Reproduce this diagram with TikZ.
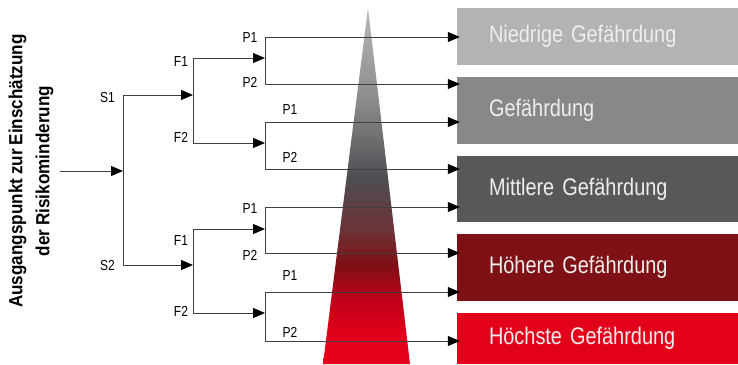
\documentclass[tikz,border=0pt]{standalone}
\usepackage{fontspec}
\setmainfont{Liberation Sans}[FakeStretch=0.83,WordSpace=0.7]
\newfontfamily\headfont{Liberation Sans}[FakeStretch=0.9,WordSpace=0.8]
\usepackage{xcolor}
\usepackage{tikz}
\usetikzlibrary{arrows.meta}

\definecolor{lvl1}{HTML}{B2B3B5}
\definecolor{lvl2}{HTML}{87888A}
\definecolor{lvl3}{HTML}{58585A}
\definecolor{lvl4}{HTML}{7E1016}
\definecolor{lvl5}{HTML}{E2001A}
\definecolor{lvltext}{HTML}{EEEEEE}
\definecolor{tri1}{HTML}{C10019}
\definecolor{tri2}{HTML}{6B3338}
\definecolor{tri3}{HTML}{4E4E52}
\definecolor{tri4}{HTML}{8C8C8E}
\definecolor{tri5}{HTML}{B8B8BA}

\pgfdeclareverticalshading{risk}{100bp}{color(0bp)=(lvl5); color(29bp)=(lvl5);
  color(34bp)=(tri1); color(39bp)=(lvl4); color(44bp)=(tri2); color(51bp)=(tri3);
  color(62bp)=(tri4); color(75bp)=(tri5); color(100bp)=(tri5)}

\tikzset{
  box/.style={rectangle,text width=217pt,inner xsep=32pt,inner ysep=0pt,align=left,
              text=lvltext,font=\fontsize{24}{28}\selectfont},
  lbl/.style={font=\fontsize{14.5}{16}\selectfont,inner sep=0pt}
}

\begin{document}
\begin{tikzpicture}[x=1pt,y=-1pt]
			\useasboundingbox (0,0) rectangle (738,364);

			% Gefaehrdungskeil
			\shade[shading=risk] (323,364) -- (368,8) -- (410,364) -- cycle;

			\begin{scope}[every node/.style={box}]
			    \node[fill=lvl1, minimum height=57pt] (n1) at (597.5,36.5) {Niedrige Gefährdung};
			    \node[fill=lvl2, minimum height=67pt] (n2) at (597.5,110.5) {Gefährdung};
			    \node[fill=lvl3, minimum height=66pt] (n3) at (597.5,189) {Mittlere Gefährdung};
			    \node[fill=lvl4, minimum height=67pt] (n4) at (597.5,267.5) {Höhere Gefährdung};
			    \node[fill=lvl5, minimum height=51pt] (n5) at (597.5,338.5) {Höchste Gefährdung};
			\end{scope}

			\node[rotate=90, align=center, inner sep=0pt,
			      font=\headfont\bfseries\fontsize{19}{27}\selectfont] (start) at (31,171)
			    {Ausgangspunkt zur Einschätzung\\der Risikominderung};

			\coordinate (in) at (60,171);
			\coordinate (s)  at (123,171);
			\coordinate (S1) at (123,95);   \coordinate (S2) at (123,265);
			\coordinate (Fa) at (193,95);   \coordinate (Fb) at (193,265);
			\coordinate (F1a) at (193,58);  \coordinate (F2a) at (193,143);
			\coordinate (F1b) at (193,229); \coordinate (F2b) at (193,313);
			\coordinate (Pa) at (265,58);   \coordinate (Pb) at (265,143);
			\coordinate (Pc) at (265,229);  \coordinate (Pd) at (265,313);
			\coordinate (P1a) at (265,37);  \coordinate (P2a) at (265,84);
			\coordinate (P1b) at (265,122); \coordinate (P2b) at (265,169);
			\coordinate (P1c) at (265,207); \coordinate (P2c) at (265,253);
			\coordinate (P1d) at (265,292); \coordinate (P2d) at (265,341);

			\begin{scope}[every node/.style={lbl}]
			    \node (s1) at (107.5,98) {S1};
			    \node (s2) at (107.5,266) {S2};
			    \node (f1a) at (181,62) {F1};
			    \node (f2a) at (181,137) {F2};
			    \node (f1b) at (181,241) {F1};
			    \node (f2b) at (181,311) {F2};
			    \node (p1a) at (250,38) {P1};
			    \node (p2a) at (250,82) {P2};
			    \node (p1b) at (290,110) {P1};
			    \node (p2b) at (290,157) {P2};
			    \node (p1c) at (250,209) {P1};
			    \node (p2c) at (250,255) {P2};
			    \node (p1d) at (290,276) {P1};
			    \node (p2d) at (290,332) {P2};
			\end{scope}

			\begin{scope}[>={Triangle[length=12pt,width=10pt,black]},
			              every edge/.style={draw=black!75,line width=0.8pt}]
			    \path [->] (in) edge (s);
			    \path (S1) edge (S2);
			    \path [->] (S1) edge (Fa);
			    \path [->] (S2) edge (Fb);
			    \path (F1a) edge (F2a);
			    \path (F1b) edge (F2b);
			    \path [->] (F1a) edge (Pa);
			    \path [->] (F2a) edge (Pb);
			    \path [->] (F1b) edge (Pc);
			    \path [->] (F2b) edge (Pd);
			    \path (P1a) edge (P2a);
			    \path (P1b) edge (P2b);
			    \path (P1c) edge (P2c);
			    \path (P1d) edge (P2d);
			    \path [->] (P1a) edge ([xshift=3pt]P1a -| n1.west);
			    \path [->] (P2a) edge ([xshift=3pt]P2a -| n2.west);
			    \path [->] (P1b) edge ([xshift=3pt]P1b -| n2.west);
			    \path [->] (P2b) edge ([xshift=3pt]P2b -| n3.west);
			    \path [->] (P1c) edge ([xshift=3pt]P1c -| n3.west);
			    \path [->] (P2c) edge ([xshift=3pt]P2c -| n4.west);
			    \path [->] (P1d) edge ([xshift=3pt]P1d -| n4.west);
			    \path [->] (P2d) edge ([xshift=3pt]P2d -| n5.west);
			\end{scope}
			\end{tikzpicture}
\end{document}
